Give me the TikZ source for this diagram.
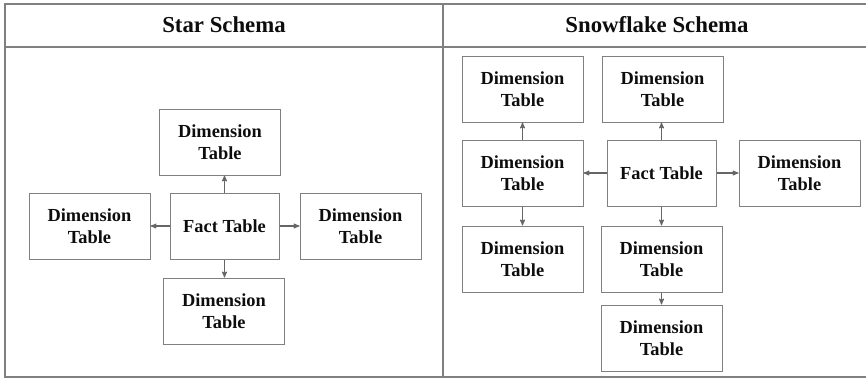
\documentclass[tikz,border=0pt]{standalone}
\usepackage{fontspec}
\setmainfont{Liberation Serif}
\usetikzlibrary{positioning,arrows}

\begin{document}
\begin{tikzpicture}[x=1pt,y=-1pt]
                                \tikzstyle{every node}=[fill=none,rectangle,inner sep=0,align=center,text=black!95]
                                \tikzstyle{table}=[draw=black!50,line width=1,minimum width=121,minimum height=66,font=\fontsize{18.4}{22}\selectfont\bfseries]
                                \tikzstyle{fact}=[table,minimum width=109]
                                \tikzstyle{title}=[font=\fontsize{22.8}{26}\selectfont\bfseries]
                                \tikzstyle{link}=[->,>=stealth',draw=black!60,line width=1.1]
                                \useasboundingbox (0,0) rectangle (866,378);
                                {
                                    % frame and header row
                                    \draw[black!50,line width=1.3] (870,4) -- (5,4) -- (5,377) -- (870,377);
                                    \draw[black!50,line width=1.3] (5,47) -- (870,47);
                                    \draw[black!50,line width=1.3] (443,4) -- (443,377);
                                    \node[title] (startitle) at (224,25) {Star Schema};
                                    \node[title] (snowtitle) at (657,25) {Snowflake Schema};

                                    % star schema
                                    \node[fact] (sfact) at (224.5,226) {Fact Table};
                                    \node[table] (stop) at (220,142) {Dimension\\Table};
                                    \node[table] (sleft) at (89.5,226) {Dimension\\Table};
                                    \node[table] (sright) at (360.5,226) {Dimension\\Table};
                                    \node[table] (sbottom) at (224,311) {Dimension\\Table};
                                    \draw[link] (sfact.north) -- (sfact.north |- stop.south);
                                    \draw[link] (sfact.west) -- (sleft.east);
                                    \draw[link] (sfact.east) -- (sright.west);
                                    \draw[link] (sfact.south) -- (sfact.south |- sbottom.north);

                                    % snowflake schema
                                    \node[fact] (ffact) at (661.5,173) {Fact Table};
                                    \node[table] (fmidleft) at (522.5,173) {Dimension\\Table};
                                    \node[table] (fmidright) at (799.5,173) {Dimension\\Table};
                                    \node[table] (ftopleft) at (522.5,89) {Dimension\\Table};
                                    \node[table] (ftopmid) at (662.5,89) {Dimension\\Table};
                                    \node[table] (fbotleft) at (522.5,259) {Dimension\\Table};
                                    \node[table] (fbotmid) at (661.5,259) {Dimension\\Table};
                                    \node[table] (fbotlow) at (661.5,338) {Dimension\\Table};
                                    \draw[link] (ffact.west) -- (fmidleft.east);
                                    \draw[link] (ffact.east) -- (fmidright.west);
                                    \draw[link] (ffact.north) -- (ffact.north |- ftopmid.south);
                                    \draw[link] (ffact.south) -- (fbotmid.north);
                                    \draw[link] (fmidleft.north) -- (ftopleft.south);
                                    \draw[link] (fmidleft.south) -- (fbotleft.north);
                                    \draw[link] (fbotmid.south) -- (fbotlow.north);
                                }
\end{tikzpicture}
\end{document}
